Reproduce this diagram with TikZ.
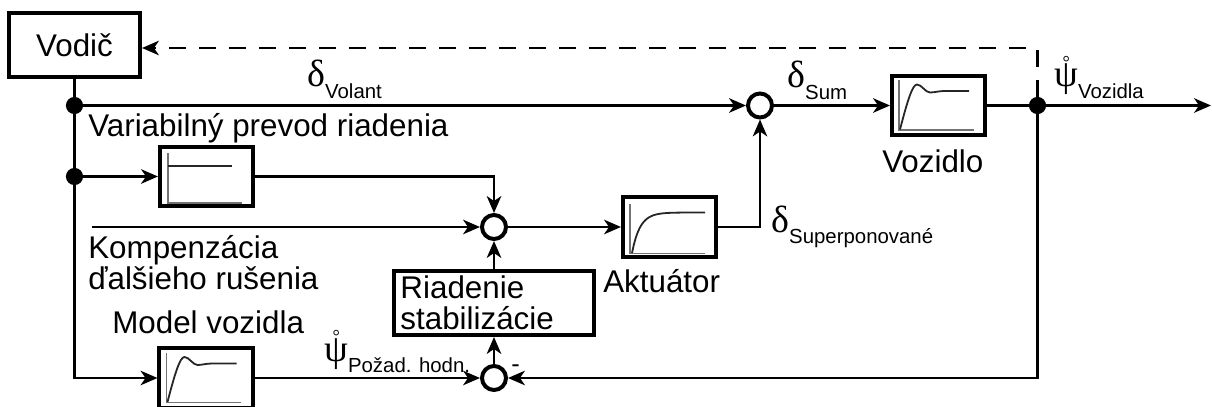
\documentclass[tikz,border=0pt]{standalone}
\usepackage{fontspec}
\setmainfont{Liberation Sans}
\newfontfamily\grk{Liberation Serif}
\usetikzlibrary{arrows.meta}

% veliciny s indexom
\newcommand{\velic}[2]{{\grk\fontsize{27pt}{27pt}\selectfont #1}\raisebox{-0.275cm}{\fontsize{14.5pt}{14.5pt}\selectfont #2}}
\newcommand{\psikr}{\ooalign{ψ\cr\hidewidth\raisebox{0.5em}{\fontsize{13pt}{13pt}\selectfont °}\hidewidth\cr}}

\tikzset{
  blok/.style={draw, line width=0.1cm, minimum width=2.325cm, minimum height=1.475cm, inner sep=0pt},
  suma/.style={circle, draw, line width=0.1cm, minimum size=0.6cm, inner sep=0pt},
  bod/.style={circle, fill, minimum size=0.43cm, inner sep=0pt},
  spoj/.style={line width=0.0625cm},
  sig/.style={spoj, -{Stealth[length=0.42cm, width=0.36cm, inset=0.12cm]}},
  spatna/.style={sig, dash pattern=on 0.425cm off 0.325cm},
  os/.style={line width=0.045cm, black!55},
  krivka/.style={line width=0.045cm, black!85},
  popis/.style={inner sep=0pt, anchor=base west},
  pics/kmit/.style={code={
    \draw[os] (-39.5,-25) -- (-39.5,24.5) -- (35,24.5);
    \draw[krivka] (-38.5,24) .. controls (-31,-5) and (-26,-21) .. (-21.5,-21)
      .. controls (-17,-21) and (-13,-13) .. (-8.5,-13)
      .. controls (-4,-13) and (0,-14.5) .. (6,-14.5) -- (30.5,-14.5);
  }},
  pics/nabeh/.style={code={
    \draw[os] (-39.5,-23.5) -- (-39.5,26.5) -- (35.5,26.5);
    \draw[krivka] plot[domain=0:73, samples=40] ({-37.5+\x},{26-40.5*(1-exp(-\x/8))});
  }},
  pics/stupen/.style={code={
    \draw[os] (-38.5,-23.5) -- (-38.5,26.5) -- (35.5,26.5);
    \draw[krivka] (-38.5,-10.5) -- (25.5,-10.5);
  }},
}

\begin{document}
\begin{tikzpicture}[x=0.025cm, y=-0.025cm, font=\fontsize{22.3pt}{21.8pt}\selectfont]
    \useasboundingbox (0,0) rectangle (1212,407);

    % bloky
    \node[blok, minimum width=3.275cm, minimum height=1.6cm] (vodic) at (74.5,45) {Vodič};
    \node[blok] (prevod) at (206.5,176.5) {};
    \node[blok] (aktuator) at (669.5,227) {};
    \node[blok] (vozidlo) at (938.5,105.5) {};
    \node[blok] (model) at (206,378) {};
    \node[blok, minimum width=4.975cm, minimum height=1.6cm, text width=4.675cm,
          inner xsep=0.15cm, align=left] (riadenie) at (494,303) {\raisebox{-0.07cm}{Riadenie}\\\raisebox{-0.07cm}{stabilizácie}};

    % priebehy v blokoch
    \pic at (vozidlo.center) {kmit};
    \pic at (model.center) {kmit};
    \pic at (aktuator.center) {nabeh};
    \pic at (prevod.center) {stupen};

    % sumacne cleny a uzly
    \node[suma] (sum1) at (760,105.5) {};
    \node[suma] (sum2) at (494,227) {};
    \node[suma] (sum3) at (494,378) {};
    \node[bod] (bodA) at (74.5,105.5) {};
    \node[bod] (bodB) at (74.5,176.5) {};
    \node[bod] (bodV) at (1037.5,105.5) {};
    \coordinate (komp) at (92,227);
    \coordinate (vystup) at (1211,105.5);
    \coordinate (roh) at (1037.5,48);

    % spoje
    \draw[sig] (vodic.south) |- (model.west);
    \draw[sig] (bodA) -- (sum1.west);
    \draw[sig] (bodB) -- (prevod.west);
    \draw[sig] (prevod.east) -| (sum2.north);
    \draw[sig] (komp) -- (sum2.west);
    \draw[sig] (sum2.east) -- (aktuator.west);
    \draw[sig] (aktuator.east) -| (sum1.south);
    \draw[sig] (sum1.east) -- (vozidlo.west);
    \draw[sig] (vozidlo.east) -- (vystup);
    \draw[sig] (bodV) |- (sum3.east);
    \draw[sig] (model.east) -- (sum3.west);
    \draw[sig] (sum3.north) -- (riadenie.south);
    \draw[sig] (riadenie.north) -- (sum2.south);
    \draw[spatna] (bodV) -- (roh) -- (roh -| vodic.east);

    % popisy
    \node[popis] (lVolant) at (307,87) {\velic{δ}{Volant}};
    \node[popis] (lSum) at (787,88) {\velic{δ}{Sum}};
    \node[popis] (lSuper) at (771,232) {\velic{δ}{Superponované}};
    \node[popis] (lVozidla) at (1054,87) {\velic{\psikr}{Vozidla}};
    \node[popis] (lPozad) at (324,361) {\velic{\psikr}{Požad. hodn.}};
    \node[popis] (tPrevod) at (88,137) {Variabilný prevod riadenia};
    \node[popis, align=left] (tKomp) at (88,289) {Kompenzácia\\ďalšieho rušenia};
    \node[popis] (tModel) at (112,333) {Model vozidla};
    \node[popis] (tAkt) at (603,292) {Aktuátor};
    \node[popis] (tVoz) at (882,172) {Vozidlo};
    \node[popis, font=\fontsize{18pt}{18pt}\selectfont] (minus) at (511,372) {-};
\end{tikzpicture}
\end{document}
